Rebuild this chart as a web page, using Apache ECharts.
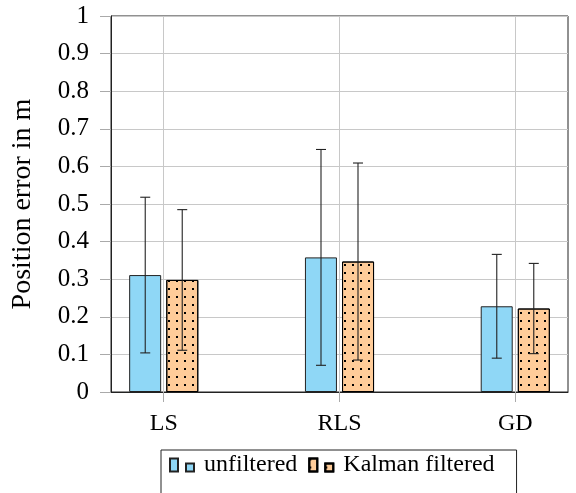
<!DOCTYPE html>
<html>
<head>
<meta charset="utf-8">
<script src="https://cdn.jsdelivr.net/npm/echarts@6/dist/echarts.min.js"></script>
<style>
html,body{margin:0;padding:0;background:#fff;}
#chart{width:576px;height:493px;}
</style>
</head>
<body>
<div id="chart"></div>
<script>
// ---- data ----
const categories = ['LS', 'RLS', 'GD'];
const seriesNames = ['unfiltered', 'Kalman filtered'];
const unfilteredMean = [0.311, 0.358, 0.228];
const unfilteredStd  = [0.207, 0.287, 0.138];
const kalmanMean     = [0.298, 0.347, 0.222];
const kalmanStd      = [0.187, 0.262, 0.120];
const yTicks = [0, 0.1, 0.2, 0.3, 0.4, 0.5, 0.6, 0.7, 0.8, 0.9, 1];

const FONT = '"Liberation Serif", "Times New Roman", serif';
const idx = categories.map((c, i) => i);

function barData(mean) { return idx.map(i => [i, mean[i]]); }
function errData(mean, std) { return idx.map(i => [i, mean[i] - std[i], mean[i] + std[i]]); }

function errRender(offset) {
  return function (params, api) {
    const x = api.value(0);
    const lo = api.coord([x, api.value(1)]);
    const hi = api.coord([x, api.value(2)]);
    const cx = lo[0] + offset;
    const cap = 5;
    return {
      type: 'group',
      children: [
        {type: 'line', shape: {x1: cx, y1: hi[1], x2: cx, y2: lo[1]}, style: {stroke: '#222', lineWidth: 1.1}},
        {type: 'line', shape: {x1: cx - cap, y1: hi[1], x2: cx + cap, y2: hi[1]}, style: {stroke: '#222', lineWidth: 1.1}},
        {type: 'line', shape: {x1: cx - cap, y1: lo[1], x2: cx + cap, y2: lo[1]}, style: {stroke: '#222', lineWidth: 1.1}}
      ]
    };
  };
}

const chart = echarts.init(document.getElementById('chart'), null, {renderer: 'canvas'});
const legendIcon = 'path://M0,0h8v13h-8z M16,5h8v8h-8z';

chart.setOption({
  animation: false,
  backgroundColor: '#fff',
  grid: {left: 111, right: 8, top: 16, bottom: 101, show: true, borderColor: '#222', borderWidth: 1},
  legend: {
    data: seriesNames,
    left: 161,
    top: 450,
    padding: [3, 22, 60, 8],
    itemGap: 11,
    itemWidth: 24,
    itemHeight: 13,
    icon: legendIcon,
    borderColor: '#222',
    borderWidth: 1,
    textStyle: {fontFamily: FONT, fontSize: 24, color: '#000', padding: [0, 0, 0, 5], lineHeight: 24}
  },
  xAxis: {
    type: 'value',
    min: -0.3,
    max: 2.3,
    axisLine: {show: true, onZero: false, lineStyle: {color: '#222', width: 1}},
    axisTick: {show: true, length: 10, customValues: idx, lineStyle: {color: '#aaa'}},
    axisLabel: {
      customValues: idx,
      formatter: v => categories[Math.round(v)] || '',
      fontFamily: FONT, fontSize: 24, color: '#000', margin: 20
    },
    splitLine: {show: true, lineStyle: {color: '#c8c8c8', width: 1}}
  },
  yAxis: {
    type: 'value',
    min: 0,
    max: 1,
    interval: 0.1,
    name: 'Position error in m',
    nameLocation: 'middle',
    nameGap: 74,
    nameTextStyle: {fontFamily: FONT, fontSize: 28, color: '#000'},
    axisLine: {show: true, onZero: false, lineStyle: {color: '#222', width: 1}},
    axisTick: {show: true, length: 11, lineStyle: {color: '#aaa'}},
    axisLabel: {fontFamily: FONT, fontSize: 25, color: '#000', margin: 22},
    splitLine: {show: true, lineStyle: {color: '#c8c8c8', width: 1}}
  },
  series: [
    {
      name: seriesNames[0],
      type: 'bar',
      data: barData(unfilteredMean),
      barWidth: 32,
      barGap: '16%',
      itemStyle: {color: '#8fd7f6', borderColor: '#222', borderWidth: 1}
    },
    {
      name: seriesNames[1],
      type: 'bar',
      data: barData(kalmanMean),
      barWidth: 32,
      barGap: '16%',
      itemStyle: {
        color: '#ffcc99', borderColor: '#000', borderWidth: 1,
        decal: {symbol: 'rect', symbolSize: 1, dashArrayX: [2, 6], dashArrayY: [2, 6], rotation: 0, color: '#000'}
      }
    },
    {
      name: 'err-unfiltered',
      type: 'custom',
      renderItem: errRender(-18.5),
      data: errData(unfilteredMean, unfilteredStd),
      encode: {x: 0, y: [1, 2]},
      z: 5
    },
    {
      name: 'err-kalman',
      type: 'custom',
      renderItem: errRender(18.5),
      data: errData(kalmanMean, kalmanStd),
      encode: {x: 0, y: [1, 2]},
      z: 5
    }
  ]
});
</script>
</body>
</html>
